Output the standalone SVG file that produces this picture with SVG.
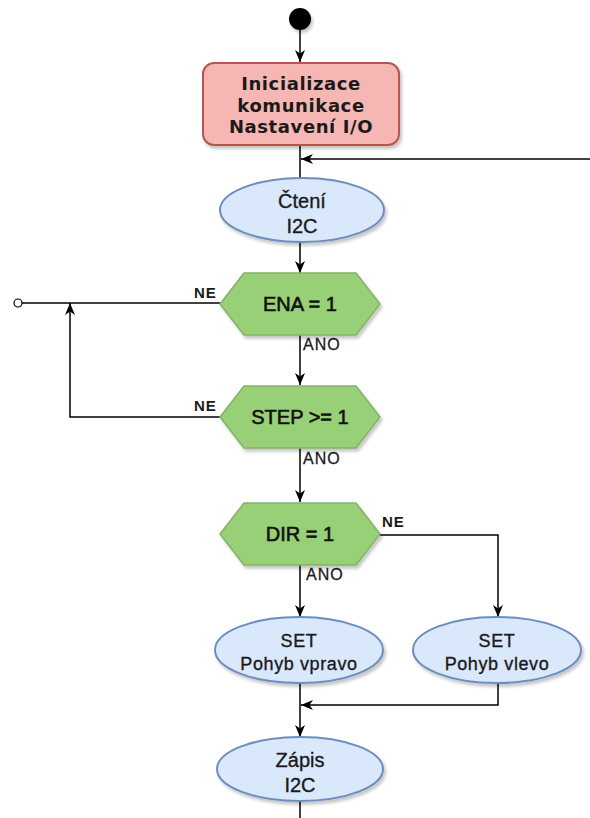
<svg xmlns="http://www.w3.org/2000/svg" width="590" height="818" viewBox="0 0 590 818">
<style>
.conn{fill:none;stroke:#000;stroke-width:1.5}
.rect{fill:#f6b6b4;stroke:#b85450;stroke-width:2}
.ell{fill:#dae8fc;stroke:#6c8ebf;stroke-width:2}
.hex{fill:#97d077;stroke:#82b366;stroke-width:1.5}
.t{font-family:"Liberation Sans",Arial,sans-serif;fill:#1a1a1a;stroke:#1a1a1a;stroke-width:0.35;text-anchor:middle}
.th{font-family:"Liberation Sans",Arial,sans-serif;font-size:20px;fill:#111;stroke:#111;stroke-width:0.6;text-anchor:middle}
.tr{font-family:"DejaVu Sans",Verdana,sans-serif;font-weight:bold;font-size:18px;fill:#1a1a1a;text-anchor:middle;letter-spacing:0.6px}
.ne{font-family:"Liberation Sans",Arial,sans-serif;font-weight:bold;font-size:15px;fill:#1a1a1a;letter-spacing:0.8px}
.ano{font-family:"Liberation Sans",Arial,sans-serif;font-size:16px;fill:#1a1a1a;stroke:#1a1a1a;stroke-width:0.3;letter-spacing:1px}
</style>
<defs>
<filter id="sh" x="-20%" y="-20%" width="140%" height="150%">
<feDropShadow dx="2" dy="3" stdDeviation="1.5" flood-color="#000" flood-opacity="0.22"/>
</filter>
<marker id="arr" viewBox="0 0 12 12" refX="12" refY="6" markerWidth="12" markerHeight="12" markerUnits="userSpaceOnUse" orient="auto">
<path d="M0,1 L12,6 L0,11 L3.5,6 Z" fill="#000"/>
</marker>
</defs>

<g id="connectors">
<line class="conn" x1="300" y1="30" x2="300" y2="62" marker-end="url(#arr)"/>
<line class="conn" x1="300" y1="145" x2="300" y2="179"/>
<line class="conn" x1="590" y1="159" x2="301" y2="159" marker-end="url(#arr)"/>
<line class="conn" x1="300" y1="242" x2="300" y2="273" marker-end="url(#arr)"/>
<line class="conn" x1="300" y1="335" x2="300" y2="385" marker-end="url(#arr)"/>
<line class="conn" x1="300" y1="448" x2="300" y2="502" marker-end="url(#arr)"/>
<line class="conn" x1="300" y1="565" x2="300" y2="617" marker-end="url(#arr)"/>
<polyline class="conn" points="380,535 498,535 498,617" marker-end="url(#arr)"/>
<polyline class="conn" points="498,683 498,705 301,705" marker-end="url(#arr)"/>
<line class="conn" x1="300" y1="683" x2="300" y2="737" marker-end="url(#arr)"/>
<line class="conn" x1="300" y1="802" x2="300" y2="818"/>
<line class="conn" x1="220" y1="303" x2="22" y2="303"/>
<circle cx="18" cy="303" r="4" fill="#fff" stroke="#000" stroke-width="1.2"/>
<polyline class="conn" points="220,417 70,417 70,303" marker-end="url(#arr)"/>
<text class="ne" x="194" y="298">NE</text>
<text class="ne" x="194" y="411">NE</text>
<text class="ne" x="382" y="527">NE</text>
<text class="ano" x="303" y="350">ANO</text>
<text class="ano" x="303" y="464">ANO</text>
<text class="ano" x="306" y="580">ANO</text>
</g>

<g id="start">
<circle cx="300" cy="19" r="11" fill="#000" filter="url(#sh)"/>
</g>

<g id="init">
<rect class="rect" x="203" y="63" width="196" height="82" rx="11" filter="url(#sh)"/>
<text class="tr" x="301" y="90">Inicializace</text>
<text class="tr" x="301" y="111.5">komunikace</text>
<text class="tr" x="301" y="133">Nastavení I/O</text>
</g>

<g id="cteni">
<ellipse class="ell" cx="302" cy="210" rx="82" ry="32" filter="url(#sh)"/>
<text class="t" x="302" y="208" font-size="20">Čtení</text>
<text class="t" x="302" y="233" font-size="20">I2C</text>
</g>

<g id="ena">
<polygon class="hex" points="220,304 244,273 356,273 380,304 356,335 244,335" filter="url(#sh)"/>
<text class="th" x="300" y="311">ENA = 1</text>
</g>

<g id="step">
<polygon class="hex" points="220,417 244,386 356,386 380,417 356,448 244,448" filter="url(#sh)"/>
<text class="th" x="300" y="424">STEP &gt;= 1</text>
</g>

<g id="dir">
<polygon class="hex" points="220,534 244,503 356,503 380,534 356,565 244,565" filter="url(#sh)"/>
<text class="th" x="300" y="541">DIR = 1</text>
</g>

<g id="vpravo">
<ellipse class="ell" cx="299" cy="650" rx="84" ry="33" filter="url(#sh)"/>
<text class="t" x="299" y="647" font-size="18" letter-spacing="0.6">SET</text>
<text class="t" x="299" y="670" font-size="18" letter-spacing="0.6">Pohyb vpravo</text>
</g>

<g id="vlevo">
<ellipse class="ell" cx="497" cy="650" rx="84" ry="33" filter="url(#sh)"/>
<text class="t" x="497" y="647" font-size="18" letter-spacing="0.6">SET</text>
<text class="t" x="497" y="670" font-size="18" letter-spacing="0.6">Pohyb vlevo</text>
</g>

<g id="zapis">
<ellipse class="ell" cx="300" cy="769" rx="83" ry="32" filter="url(#sh)"/>
<text class="t" x="300" y="767" font-size="20">Zápis</text>
<text class="t" x="300" y="792" font-size="20">I2C</text>
</g>
</svg>
